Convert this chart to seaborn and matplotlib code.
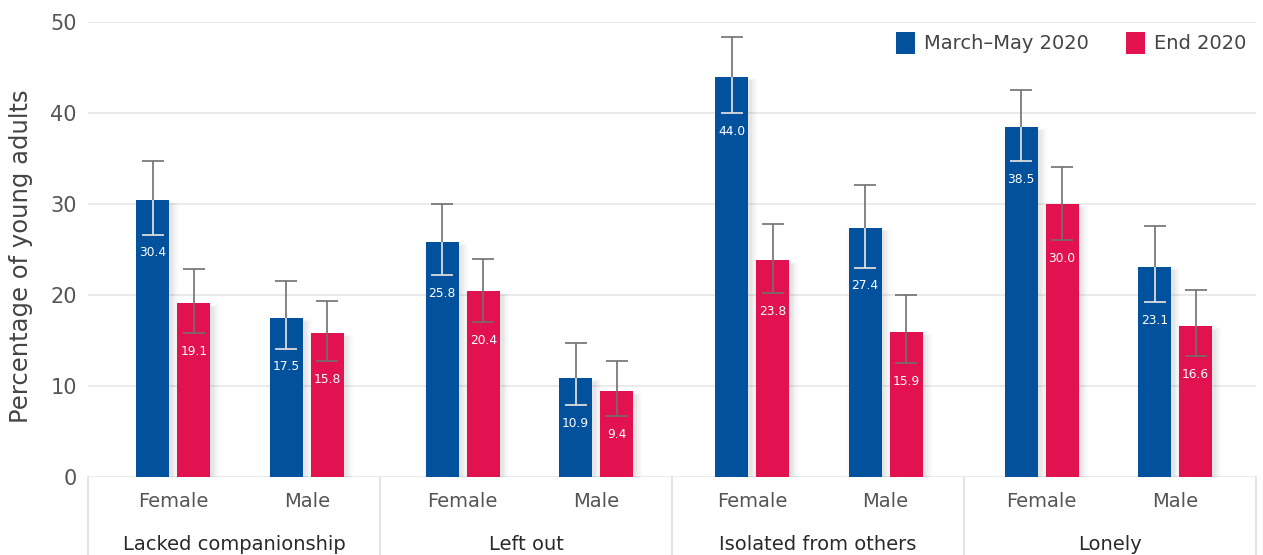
import numpy as np
import pandas as pd
import matplotlib
matplotlib.use("Agg")
import matplotlib.pyplot as plt
import seaborn as sns
from matplotlib.patches import Rectangle
from matplotlib.transforms import IdentityTransform

# ---- data ---------------------------------------------------------------
measures = ["Lacked companionship", "Left out", "Isolated from others", "Lonely"]
sexes = ["Female", "Male"]
periods = ["March–May 2020", "End 2020"]

march_values = [30.4, 17.5, 25.8, 10.9, 44.0, 27.4, 38.5, 23.1]
march_lower = [26.6, 14.1, 22.2, 7.9, 40.0, 23.0, 34.7, 19.2]
march_upper = [34.7, 21.5, 30.0, 14.7, 48.3, 32.1, 42.5, 27.6]

end_values = [19.1, 15.8, 20.4, 9.4, 23.8, 15.9, 30.0, 16.6]
end_lower = [15.8, 12.7, 17.0, 6.7, 20.2, 12.5, 26.0, 13.3]
end_upper = [22.9, 19.3, 24.0, 12.7, 27.8, 20.0, 34.1, 20.5]

y_ticks = [0, 10, 20, 30, 40, 50]

# ---- style --------------------------------------------------------------
sns.set_style("white")
plt.rcParams["font.family"] = ["DejaVu Sans"]
BLUE = "#02519c"
RED = "#e1124f"
GRID = "#e9e9e9"
ERR = "#6f6f6f"
LIGHT_ERR = "#dde2ea"
CAP = 7.8
palette = {periods[0]: BLUE, periods[1]: RED}

# pair positions: Female/Male one unit apart, a wider step between measures
GROUP_STEP = 1.17
positions = []
for g in range(len(measures)):
    for s in range(len(sexes)):
        positions.append(g * (1 + GROUP_STEP) + s)

rows = []
for i, pos in enumerate(positions):
    rows.append({"pos": pos, "period": periods[0], "value": march_values[i],
                 "lo": march_lower[i], "hi": march_upper[i]})
    rows.append({"pos": pos, "period": periods[1], "value": end_values[i],
                 "lo": end_lower[i], "hi": end_upper[i]})
df = pd.DataFrame(rows)

fig = plt.figure(figsize=(12.63, 5.55), dpi=100)
ax = fig.add_axes([88 / 1263, 78 / 555, (1256 - 88) / 1263, (477 - 22) / 555])

sns.barplot(data=df, x="pos", y="value", hue="period", hue_order=periods,
            palette=palette, saturation=1, native_scale=True, errorbar=None,
            width=0.615, gap=0.195, ax=ax, zorder=3, linewidth=0,
            edgecolor="none")

ax.set_xlim(-0.64, 8.117)
ax.set_ylim(0, 50)

# soft drop shadows behind the bars
bars = [p for c in ax.containers for p in c.patches]
for bar in bars:
    (x0, y0), (x1, y1) = ax.transData.transform(
        [(bar.get_x(), 0), (bar.get_x() + bar.get_width(), bar.get_height())])
    for s, a in [(9, 0.010), (7, 0.014), (5, 0.018), (3, 0.022), (1, 0.026)]:
        r = Rectangle((x0 + 3 - s * 0.5, y0 - 10), (x1 - x0) + s * 1.2,
                      (y1 - y0) + 10 - 4 + s * 0.3,
                      transform=IdentityTransform(), facecolor="black",
                      edgecolor="none", alpha=a, zorder=2)
        ax.add_patch(r)

# error bars and value labels
for container, period in zip(ax.containers, periods):
    sub = df[df["period"] == period].sort_values("pos").reset_index(drop=True)
    patches = sorted(container.patches, key=lambda p: p.get_x())
    for p, (_, row) in zip(patches, sub.iterrows()):
        xc = p.get_x() + p.get_width() / 2
        v, lo, hi = row["value"], row["lo"], row["hi"]
        ax.errorbar(xc, v, yerr=[[v - lo], [hi - v]], fmt="none",
                    ecolor=ERR, elinewidth=1.2, capsize=CAP, capthick=1.2,
                    zorder=4)
        if period == periods[0]:
            # the part of the whisker that sits on the blue bar reads light
            ax.plot([xc, xc], [lo, v], color=LIGHT_ERR, linewidth=1.2,
                    solid_capstyle="butt", zorder=5)
            ax.plot([xc], [lo], marker="_", markersize=2 * CAP,
                    markeredgewidth=1.2, color=LIGHT_ERR, zorder=5)
        ax.annotate(f"{v:.1f}", (xc, lo), xytext=(0, -13),
                    textcoords="offset points", ha="center", va="center",
                    color="white", fontsize=8.8, zorder=6)

# axes styling
for sp in ax.spines.values():
    sp.set_visible(False)
ax.set_yticks(y_ticks)
ax.yaxis.grid(True, color=GRID, linewidth=1.3, zorder=0)
ax.set_axisbelow(True)
ax.tick_params(axis="y", length=0, pad=8, labelsize=15, labelcolor="#555555")
ax.set_ylabel("Percentage of young adults", fontsize=17.5, color="#444444")
ax.yaxis.set_label_coords(-0.047, 0.486)
ax.set_xlabel("")
ax.set_xticks(positions, labels=sexes * len(measures))
ax.tick_params(axis="x", length=0, pad=11, labelsize=14, labelcolor="#555555")

# measure boxes below the axis
for k in range(len(measures) + 1):
    f = k / len(measures)
    ax.plot([f, f], [0, -0.2], transform=ax.transAxes, clip_on=False,
            color="#e3e3e3", linewidth=1.3)
for k, m in enumerate(measures):
    ax.text((k + 0.5) / len(measures), -0.148, m, transform=ax.transAxes,
            ha="center", va="center", fontsize=14, color="#2a2a2a")

sns.move_legend(ax, "upper right", bbox_to_anchor=(1.0, 1.0), ncol=2,
                frameon=False, title=None, fontsize=14, handlelength=1.0,
                handleheight=1.35, handletextpad=0.45, columnspacing=1.9,
                borderaxespad=0.1)
for t in ax.get_legend().get_texts():
    t.set_color("#444444")

fig.savefig("out.png", dpi=100, facecolor="white")
